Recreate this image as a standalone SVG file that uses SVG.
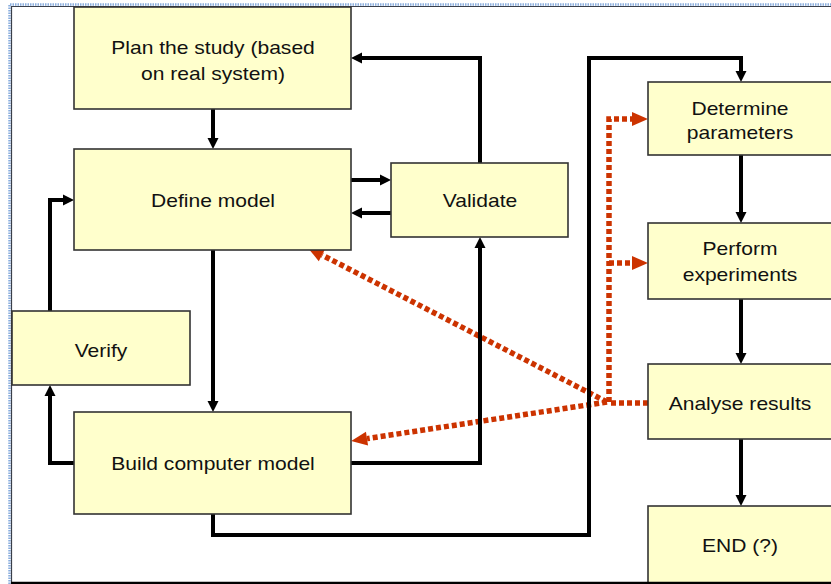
<svg xmlns="http://www.w3.org/2000/svg" width="831" height="584" viewBox="0 0 831 584">
  <style>
    .box { fill: #ffffcc; stroke: #333333; stroke-width: 1.6; }
    .lbl { font-family: "Liberation Sans", Arial, sans-serif; font-size: 18px; fill: #111111; text-anchor: middle; }
    .flow { fill: none; stroke: #000000; stroke-width: 4; marker-end: url(#arrowBlack); }
    .link { fill: none; stroke: #000000; stroke-width: 4; }
    .feedback { fill: none; stroke: #cc3300; stroke-width: 5.5; stroke-dasharray: 5 3; marker-end: url(#arrowRed); }
    .feedplain { fill: none; stroke: #cc3300; stroke-width: 5.5; stroke-dasharray: 5 3; }
  </style>
  <defs>
    <marker id="arrowBlack" markerUnits="userSpaceOnUse" markerWidth="12" markerHeight="12" refX="0" refY="5.5" orient="auto" overflow="visible">
      <path d="M0,0 L11,5.5 L0,11 Z" fill="#000000"/>
    </marker>
    <marker id="arrowRed" markerUnits="userSpaceOnUse" markerWidth="17" markerHeight="15" refX="0" refY="7" orient="auto" overflow="visible">
      <path d="M0,0 L16,7 L0,14 Z" fill="#cc3300"/>
    </marker>
  </defs>

  <rect x="0" y="0" width="831" height="584" fill="#ffffff"/>

  <!-- frame -->
  <path d="M9.5,584 V4.5 H831" fill="none" stroke="#8aaede" stroke-width="2.5" stroke-dasharray="1.5 1"/>
  <path d="M11.5,584 V6.5 H831" fill="none" stroke="#3a3f4a" stroke-width="1.2"/>

  <g id="connectors">
    <!-- feedback from analysis (drawn under the boxes) -->
    <path class="feedback" d="M648,403 H609 V119 H632"/>
    <path class="feedback" d="M609,263 H632"/>
    <path class="feedback" d="M607,402 L322,255"/>
    <path class="feedback" d="M607,402 L367,438.6"/>

    <!-- main flow -->
    <path class="flow" d="M213,109 V138"/>
    <path class="flow" d="M351,180 H380"/>
    <path class="flow" d="M391,213 H362"/>
    <path class="flow" d="M480,163 V58 H362"/>
    <path class="flow" d="M213,250 V401"/>
    <path class="flow" d="M74,463 H50 V396"/>
    <path class="flow" d="M50,311 V200 H63"/>
    <path class="flow" d="M351,463 H480 V248"/>
    <path class="flow" d="M213,514 V535 H589 V58 H741 V71"/>
    <path class="flow" d="M741,155 V212"/>
    <path class="flow" d="M741,299 V353"/>
    <path class="flow" d="M741,439 V495"/>
  </g>

  <g id="plan">
    <rect class="box" x="74" y="7" width="277" height="102"/>
    <text class="lbl" transform="translate(213,54) scale(1.17,1)">Plan the study (based</text>
    <text class="lbl" transform="translate(213,80) scale(1.17,1)">on real system)</text>
  </g>
  <g id="define">
    <rect class="box" x="74" y="149" width="277" height="101"/>
    <text class="lbl" transform="translate(213,207) scale(1.17,1)">Define model</text>
  </g>
  <g id="validate">
    <rect class="box" x="391" y="163" width="177" height="74"/>
    <text class="lbl" transform="translate(480,207) scale(1.17,1)">Validate</text>
  </g>
  <g id="verify">
    <rect class="box" x="12" y="311" width="178" height="74"/>
    <text class="lbl" transform="translate(101,357) scale(1.17,1)">Verify</text>
  </g>
  <g id="build">
    <rect class="box" x="74" y="412" width="277" height="102"/>
    <text class="lbl" transform="translate(213,470) scale(1.17,1)">Build computer model</text>
  </g>
  <g id="determine">
    <rect class="box" x="648" y="82" width="190" height="73"/>
    <text class="lbl" transform="translate(740,115) scale(1.17,1)">Determine</text>
    <text class="lbl" transform="translate(740,139) scale(1.17,1)">parameters</text>
  </g>
  <g id="perform">
    <rect class="box" x="648" y="223" width="190" height="76"/>
    <text class="lbl" transform="translate(740,255) scale(1.17,1)">Perform</text>
    <text class="lbl" transform="translate(740,281) scale(1.17,1)">experiments</text>
  </g>
  <g id="analyse">
    <rect class="box" x="648" y="364" width="190" height="75"/>
    <text class="lbl" transform="translate(740,410) scale(1.17,1)">Analyse results</text>
  </g>
  <g id="end">
    <rect class="box" x="648" y="506" width="190" height="80"/>
    <text class="lbl" transform="translate(740,552) scale(1.17,1)">END (?)</text>
  </g>

  <path d="M11,583 H831" stroke="#000000" stroke-width="2.5"/>
</svg>
